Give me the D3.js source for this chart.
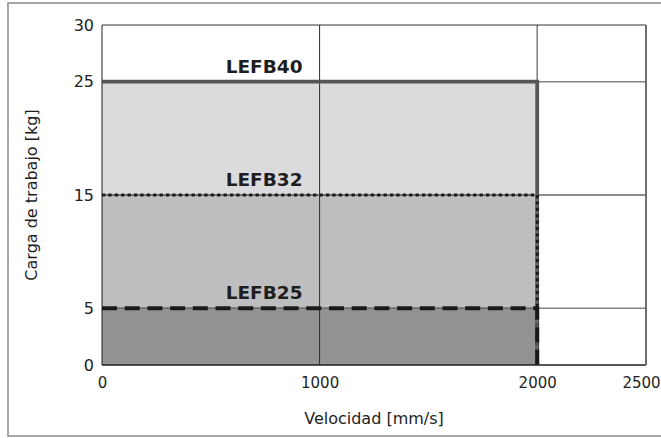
<!DOCTYPE html>
<html>
<head>
<meta charset="utf-8">
<script src="https://cdn.jsdelivr.net/npm/d3@7/dist/d3.min.js"></script>
<style>
  html, body { margin: 0; padding: 0; background: #fff; }
  svg { display: block; }
  text { font-family: "DejaVu Sans", sans-serif; fill: #1e1e1e; }
</style>
</head>
<body>
<svg id="chart" width="661" height="438"></svg>
<script>
// ---- data ----
const categories = ["LEFB40", "LEFB32", "LEFB25"];
const maxSpeed = [2000, 2000, 2000];          // mm/s
const maxLoad = [25, 15, 5];                  // kg
const xTicks = [0, 1000, 2000, 2500];
const yTicks = [0, 5, 15, 25, 30];
const xGrid = [1000, 2000];
const yGrid = [5, 15, 25];
const labelSpeed = 745;                       // where series names sit (mm/s)

// ---- layout ----
const W = 661, H = 438;
const margin = { left: 102, right: 15, top: 25, bottom: 73 };
const svg = d3.select("#chart");

const x = d3.scaleLinear().domain([0, 2500]).range([margin.left, W - margin.right]);
const y = d3.scaleLinear().domain([0, 30]).range([H - margin.bottom, margin.top]);

const fills = { LEFB40: "#dbdbdd", LEFB32: "#bebec0", LEFB25: "#939395" };

// outer frame
svg.append("rect")
  .attr("x", 8).attr("y", 3).attr("width", 700).attr("height", 433)
  .attr("fill", "none").attr("stroke", "#8a8a8a").attr("stroke-width", 1.5);

// areas (largest first)
const series = categories.map((c, i) => ({ name: c, speed: maxSpeed[i], load: maxLoad[i] }));
svg.append("g").selectAll("rect").data(series).join("rect")
  .attr("x", d => x(0))
  .attr("y", d => y(d.load))
  .attr("width", d => x(d.speed) - x(0))
  .attr("height", d => y(0) - y(d.load))
  .attr("fill", d => fills[d.name]);

// gridlines
const grid = svg.append("g");
grid.selectAll("line.v").data(xGrid).join("line")
  .attr("class", "v")
  .attr("x1", d => x(d)).attr("x2", d => x(d))
  .attr("y1", y(0)).attr("y2", y(30))
  .attr("stroke", d => d === 1000 ? "#2a2a2a" : "#858585")
  .attr("stroke-width", d => d === 1000 ? 1 : 1.6);
grid.selectAll("line.h").data(yGrid).join("line")
  .attr("class", "h")
  .attr("x1", x(0)).attr("x2", x(2500))
  .attr("y1", d => y(d)).attr("y2", d => y(d))
  .attr("stroke", d => d === 15 ? "#1e1e1e" : "#858585")
  .attr("stroke-width", d => d === 15 ? 1 : 1.5);

// plot frame
const frame = svg.append("g");
frame.append("line").attr("x1", x(0)).attr("x2", x(2500)).attr("y1", y(30)).attr("y2", y(30))
  .attr("stroke", "#333").attr("stroke-width", 1);
frame.append("line").attr("x1", x(0)).attr("x2", x(2500)).attr("y1", y(0)).attr("y2", y(0))
  .attr("stroke", "#1e1e1e").attr("stroke-width", 1.5);
frame.append("line").attr("x1", x(0)).attr("x2", x(0)).attr("y1", y(0)).attr("y2", y(30))
  .attr("stroke", "#1e1e1e").attr("stroke-width", 1);
frame.append("line").attr("x1", x(2500)).attr("x2", x(2500)).attr("y1", y(0)).attr("y2", y(30))
  .attr("stroke", "#6e6e6e").attr("stroke-width", 2);

// series boundary lines
const line = d3.line().x(p => x(p[0])).y(p => y(p[1]));
const pts = d => [[0, d.load], [d.speed, d.load], [d.speed, 0]];
const lines = svg.append("g").attr("fill", "none");
series.forEach(d => {
  if (d.name === "LEFB40") {
    lines.append("path").attr("d", line(pts(d)))
      .attr("stroke", "#555").attr("stroke-width", 3.8);
  } else {
    lines.append("path").attr("d", line(pts(d)))
      .attr("stroke", "#6a6a6a").attr("stroke-width", 1.5);
    lines.append("path").attr("d", line(pts(d)))
      .attr("stroke", "#1a1a1a")
      .attr("stroke-width", d.name === "LEFB32" ? 3 : 4)
      .attr("stroke-dasharray", d.name === "LEFB32" ? "3.2,3.2" : "15,7.7");
  }
});

// series labels
svg.append("g").selectAll("text").data(series).join("text")
  .attr("x", x(labelSpeed))
  .attr("y", d => y(d.load) - 9)
  .attr("text-anchor", "middle")
  .style("font-size", "18.5px").style("font-weight", "bold")
  .text(d => d.name);

// axes
const yAxis = svg.append("g").attr("transform", `translate(${x(0)},0)`)
  .call(d3.axisLeft(y).tickValues(yTicks).tickSize(0).tickPadding(8).tickFormat(d3.format("d")));
yAxis.select(".domain").remove();
yAxis.selectAll("text").style("font-size", "16px").style("font-family", "DejaVu Sans").attr("fill", "#1e1e1e");

const xAxis = svg.append("g").attr("transform", `translate(0,${y(0)})`)
  .call(d3.axisBottom(x).tickValues(xTicks).tickSize(0).tickPadding(12).tickFormat(d3.format("d")));
xAxis.select(".domain").remove();
xAxis.selectAll("text").style("font-size", "15px").style("font-family", "DejaVu Sans").attr("fill", "#1e1e1e")
  .attr("dx", d => d === 2500 ? -5 : 0);

// axis titles
svg.append("text")
  .attr("x", (x(0) + x(2500)) / 2).attr("y", 424)
  .attr("text-anchor", "middle").style("font-size", "16px")
  .text("Velocidad [mm/s]");
svg.append("text")
  .attr("transform", `translate(37,${(y(0) + y(30)) / 2}) rotate(-90)`)
  .attr("text-anchor", "middle").style("font-size", "16px")
  .text("Carga de trabajo [kg]");
</script>
</body>
</html>
